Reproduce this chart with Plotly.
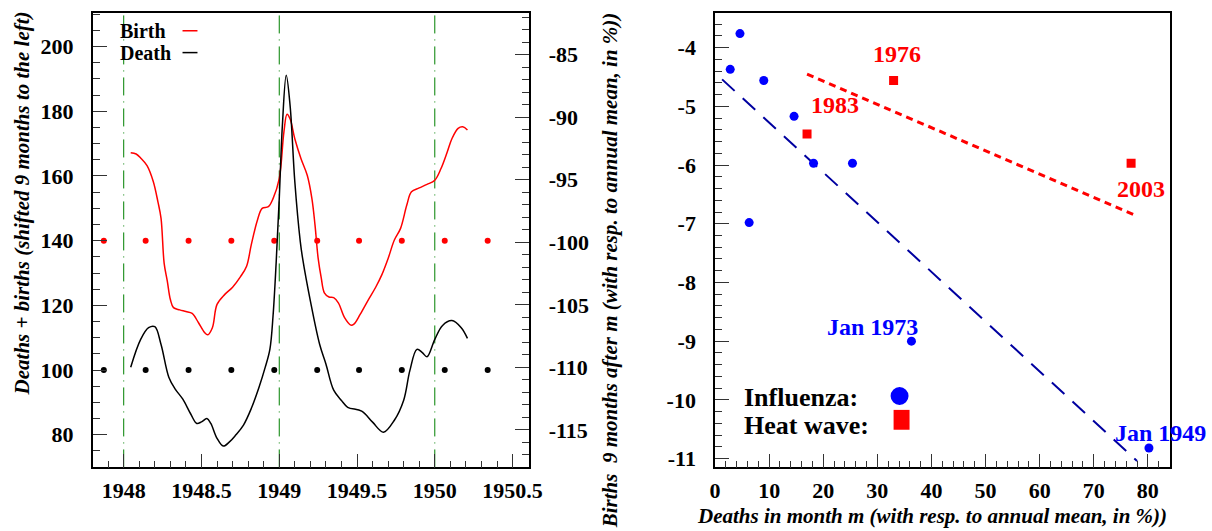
import numpy as np
import plotly.graph_objects as go

# ---- left panel: births vs deaths around 1949 ----
birth_year = [1948.045, 1948.08, 1948.11, 1948.15, 1948.19, 1948.22, 1948.24, 1948.26, 1948.28,
              1948.30, 1948.32, 1948.36, 1948.40, 1948.44, 1948.48, 1948.52, 1948.54, 1948.57,
              1948.60, 1948.65, 1948.70, 1948.75, 1948.79, 1948.82, 1948.86, 1948.89, 1948.93,
              1948.96, 1949.00, 1949.03, 1949.05, 1949.07, 1949.10, 1949.14, 1949.18, 1949.21,
              1949.23, 1949.25, 1949.27, 1949.29, 1949.32, 1949.35, 1949.38, 1949.42, 1949.46,
              1949.48, 1949.52, 1949.57, 1949.62, 1949.66, 1949.70, 1949.74, 1949.78, 1949.82,
              1949.85, 1949.90, 1949.95, 1950.00, 1950.04, 1950.08, 1950.11, 1950.15, 1950.18,
              1950.21]
birth_val = [167.2, 166.8, 165.5, 163.2, 158.3, 152.0, 146.9, 133.0, 127.6,
             121.8, 119.3, 118.6, 118.1, 117.5, 114.7, 111.6, 110.9, 113.1,
             120.3, 123.4, 125.6, 128.8, 132.1, 138.7, 146.4, 150.0, 150.5,
             153.0, 159.2, 173.6, 179.1, 177.6, 171.5, 165.3, 160.2, 153.0,
             144.8, 134.6, 128.5, 123.9, 122.6, 122.4, 120.8, 116.2, 113.9,
             114.2, 117.2, 121.5, 125.6, 129.5, 134.5, 140.2, 143.8, 151.0,
             155.1, 156.3, 157.4, 158.7, 162.3, 167.4, 171.5, 174.7, 175.2,
             174.2]

death_year = [1948.045, 1948.109, 1948.16, 1948.20, 1948.24, 1948.29, 1948.33, 1948.38, 1948.43,
              1948.47, 1948.50, 1948.535, 1948.56, 1948.60, 1948.64, 1948.68, 1948.72, 1948.77,
              1948.82, 1948.87, 1948.91, 1948.94, 1948.96, 1948.98, 1949.00, 1949.02, 1949.045,
              1949.07, 1949.10, 1949.135, 1949.15, 1949.20, 1949.26, 1949.30, 1949.35, 1949.40,
              1949.44, 1949.53, 1949.60, 1949.67, 1949.74, 1949.80, 1949.84, 1949.885, 1949.92,
              1949.95, 1950.00, 1950.05, 1950.11, 1950.17, 1950.21]
death_val = [100.9, 109.5, 113.1, 113.4, 107.9, 97.8, 94.2, 91.0, 86.5,
             83.5, 84.0, 85.0, 83.5, 78.9, 76.5, 77.8, 79.9, 83.0,
             88.1, 94.7, 100.9, 106.5, 116.7, 133.1, 153.0, 175.5, 191.1,
             181.6, 158.3, 139.8, 134.6, 121.4, 107.9, 101.9, 93.8, 90.6,
             88.5, 87.3, 83.9, 80.8, 84.5, 90.7, 99.9, 106.4, 105.4,
             104.1, 109.5, 113.8, 115.3, 113.1, 109.8]

dot_years = [1947.872, 1948.141, 1948.417, 1948.692, 1948.968,
             1949.244, 1949.513, 1949.788, 1950.064, 1950.340]
birth_ref = 140
death_ref = 100
year_marks = [1948, 1949, 1950]

x_left_ticks = [1948, 1948.5, 1949, 1949.5, 1950, 1950.5]
y_left_ticks = [80, 100, 120, 140, 160, 180, 200]
y_right_ticks = [-115, -110, -105, -100, -95, -90, -85]

# ---- right panel: influenza / heat wave ----
flu_x = [4.6, 2.8, 9.0, 14.6, 18.2, 25.4, 6.3, 36.3, 80.2]
flu_y = [-3.76, -4.37, -4.56, -5.17, -5.97, -5.97, -6.98, -9.0, -10.82]
heat_x = [17.0, 33.0, 76.9]
heat_y = [-5.47, -4.56, -5.97]
heat_labels = ["1983", "1976", "2003"]
flu_fit_range = [1.3, 78.0]
heat_line_x = [17.0, 77.5]
heat_line_y = [-4.45, -6.85]

x_right_ticks = [0, 10, 20, 30, 40, 50, 60, 70, 80]
y_right2_ticks = [-11, -10, -9, -8, -7, -6, -5, -4]

FONT = "Liberation Serif"
RED = "#ff0000"
BLUE = "#0000ff"
W, H = 1212, 531


def bold(vals):
    return ["<b>%g</b>" % v for v in vals]


def X(x):
    # horizontal pixel position -> paper fraction (page comes out ~1.3% narrower)
    return (x - 4) / 0.987 / W


def Y(y):
    return 1 - y / H


fig = go.Figure()

# left panel
fig.add_trace(go.Scatter(x=dot_years, y=[birth_ref] * len(dot_years), mode="markers",
                         marker=dict(color=RED, size=6), xaxis="x", yaxis="y"))
fig.add_trace(go.Scatter(x=dot_years, y=[death_ref] * len(dot_years), mode="markers",
                         marker=dict(color="black", size=6), xaxis="x", yaxis="y"))
fig.add_trace(go.Scatter(x=birth_year, y=birth_val, mode="lines", line=dict(color=RED, width=1.5, shape="spline"),
                         xaxis="x", yaxis="y"))
fig.add_trace(go.Scatter(x=death_year, y=death_val, mode="lines", line=dict(color="black", width=1.5, shape="spline"),
                         xaxis="x", yaxis="y"))
# dummy trace to activate the right-hand axis
fig.add_trace(go.Scatter(x=[dot_years[0]], y=[-100], mode="markers", marker=dict(opacity=0),
                         xaxis="x", yaxis="y3", hoverinfo="skip"))

for yr in year_marks:
    fig.add_shape(type="line", xref="x", yref="y domain", x0=yr, x1=yr, y0=0, y1=1,
                  line=dict(color="green", width=1, dash="18px,6px,1px,6px"), layer="below")

# right panel
slope, icpt = np.polyfit(flu_x, flu_y, 1)
fx = np.array(flu_fit_range)
fig.add_trace(go.Scatter(x=fx, y=slope * fx + icpt, mode="lines",
                         line=dict(color="#0000a0", width=2, dash="17px,11px"), xaxis="x2", yaxis="y2"))
fig.add_trace(go.Scatter(x=heat_line_x, y=heat_line_y, mode="lines",
                         line=dict(color=RED, width=3, dash="7px,5px"), xaxis="x2", yaxis="y2"))
fig.add_trace(go.Scatter(x=flu_x, y=flu_y, mode="markers", marker=dict(color=BLUE, size=9),
                         xaxis="x2", yaxis="y2"))
fig.add_trace(go.Scatter(x=heat_x, y=heat_y, mode="markers", marker=dict(color=RED, size=9, symbol="square"),
                         xaxis="x2", yaxis="y2"))

lab = dict(family=FONT, size=24, weight="bold")
fig.add_annotation(x=heat_x[1], y=heat_y[1], xref="x2", yref="y2", text="<b>%s</b>" % heat_labels[1],
                   showarrow=False, yshift=27, xshift=3, font=dict(lab, color=RED))
fig.add_annotation(x=heat_x[0], y=heat_y[0], xref="x2", yref="y2", text="<b>%s</b>" % heat_labels[0],
                   showarrow=False, yshift=29, xshift=28, font=dict(lab, color=RED))
fig.add_annotation(x=heat_x[2], y=heat_y[2], xref="x2", yref="y2", text="<b>%s</b>" % heat_labels[2],
                   showarrow=False, yshift=-26, xshift=10, font=dict(lab, color=RED))
fig.add_annotation(x=flu_x[7], y=flu_y[7], xref="x2", yref="y2", text="<b>Jan 1973</b>", showarrow=False,
                   yshift=14, xshift=-39, font=dict(lab, color=BLUE))
fig.add_annotation(x=flu_x[8], y=flu_y[8], xref="x2", yref="y2", text="<b>Jan 1949</b>", showarrow=False,
                   yshift=15, xshift=12, font=dict(lab, color=BLUE))

# right panel key
key = dict(family=FONT, size=26, weight="bold", color="black")
for txt, ypx in [("Influenza:", 401), ("Heat wave:", 429)]:
    fig.add_annotation(x=X(743), y=Y(ypx), xref="paper", yref="paper", text="<b>%s</b>" % txt,
                       showarrow=False, xanchor="left", yanchor="middle", font=key)
fig.add_shape(type="circle", xref="paper", yref="paper", x0=X(892), x1=X(910),
              y0=Y(408), y1=Y(390), fillcolor=BLUE, line=dict(width=0))
fig.add_shape(type="rect", xref="paper", yref="paper", x0=X(895), x1=X(911),
              y0=Y(433), y1=Y(413), fillcolor=RED, line=dict(width=0))

# left panel key
leg = dict(family=FONT, size=20, weight="bold", color="black")
for name, col, ypx in [("Birth", RED, 31), ("Death", "black", 53)]:
    fig.add_annotation(x=X(117), y=Y(ypx), xref="paper", yref="paper", text="<b>%s</b>" % name,
                       showarrow=False, xanchor="left", yanchor="middle", font=leg)
    fig.add_shape(type="line", xref="paper", yref="paper", x0=X(182), x1=X(197),
                  y0=Y(ypx), y1=Y(ypx), line=dict(color=col, width=1.5))

# axis titles
ttl = dict(family=FONT, size=21, weight="bold", style="italic", color="black")
for txt, tx, ty, ang in [
        ("Deaths + births (shifted 9 months to the left)", 22, 205, -90),
        ("Births  9 months after m (with resp. to annual mean, in %))", 611, 272, -90),
        ("Deaths in month m (with resp. to annual mean, in %))", 934, 520, 0)]:
    fig.add_annotation(x=X(tx), y=Y(ty), xref="paper", yref="paper", text="<b><i>%s</i></b>" % txt,
                       textangle=ang, showarrow=False, xanchor="center", yanchor="middle", font=ttl)

tick_font = dict(family=FONT, size=22, weight="bold", color="black")
common = dict(showgrid=False, zeroline=False, showline=True, linecolor="black", linewidth=1.5,
              ticks="inside", ticklen=14, tickcolor="#333", tickfont=tick_font)

dom_y = [Y(471), Y(13)]
fig.update_layout(
    width=W, height=H, margin=dict(l=0, r=0, t=0, b=0),
    paper_bgcolor="white", plot_bgcolor="white", showlegend=False,
    xaxis=dict(common, domain=[X(92), X(529)], range=[1947.801, 1950.603], anchor="y",
               mirror=True, tickvals=x_left_ticks, ticktext=bold(x_left_ticks), ticklabelstandoff=2,
               minor=dict(ticks="inside", dtick=0.1, tick0=1948, ticklen=7, tickcolor="#333")),
    yaxis=dict(common, domain=dom_y, range=[69.9, 210.4], anchor="x",
               tickvals=y_left_ticks, ticktext=bold(y_left_ticks), ticklabelstandoff=13,
               minor=dict(ticks="inside", dtick=5, tick0=0, ticklen=7, tickcolor="#333")),
    yaxis3=dict(common, overlaying="y", side="right", anchor="x", range=[-118.0, -81.67],
                tickvals=y_right_ticks, ticktext=bold(y_right_ticks), ticklabelstandoff=14,
                minor=dict(ticks="inside", dtick=1, tick0=0, ticklen=7, tickcolor="#333")),
    xaxis2=dict(common, domain=[X(716), X(1172)], range=[0, 84.06], anchor="y2",
                mirror=True, tickvals=x_right_ticks, ticktext=bold(x_right_ticks), ticklabelstandoff=2,
                minor=dict(ticks="inside", dtick=2, tick0=0, ticklen=7, tickcolor="#333")),
    yaxis2=dict(common, domain=dom_y, range=[-11.152, -3.408], anchor="x2",
                mirror=True, tickvals=y_right2_ticks, ticktext=bold(y_right2_ticks), ticklabelstandoff=13,
                minor=dict(ticks="inside", dtick=0.2, tick0=0, ticklen=7, tickcolor="#333")),
)

fig.write_html("out.html", config={"displayModeBar": False, "responsive": False},
               post_script="document.body.style.margin='0';document.body.style.overflow='hidden';"
                           "document.documentElement.style.overflow='hidden';")
